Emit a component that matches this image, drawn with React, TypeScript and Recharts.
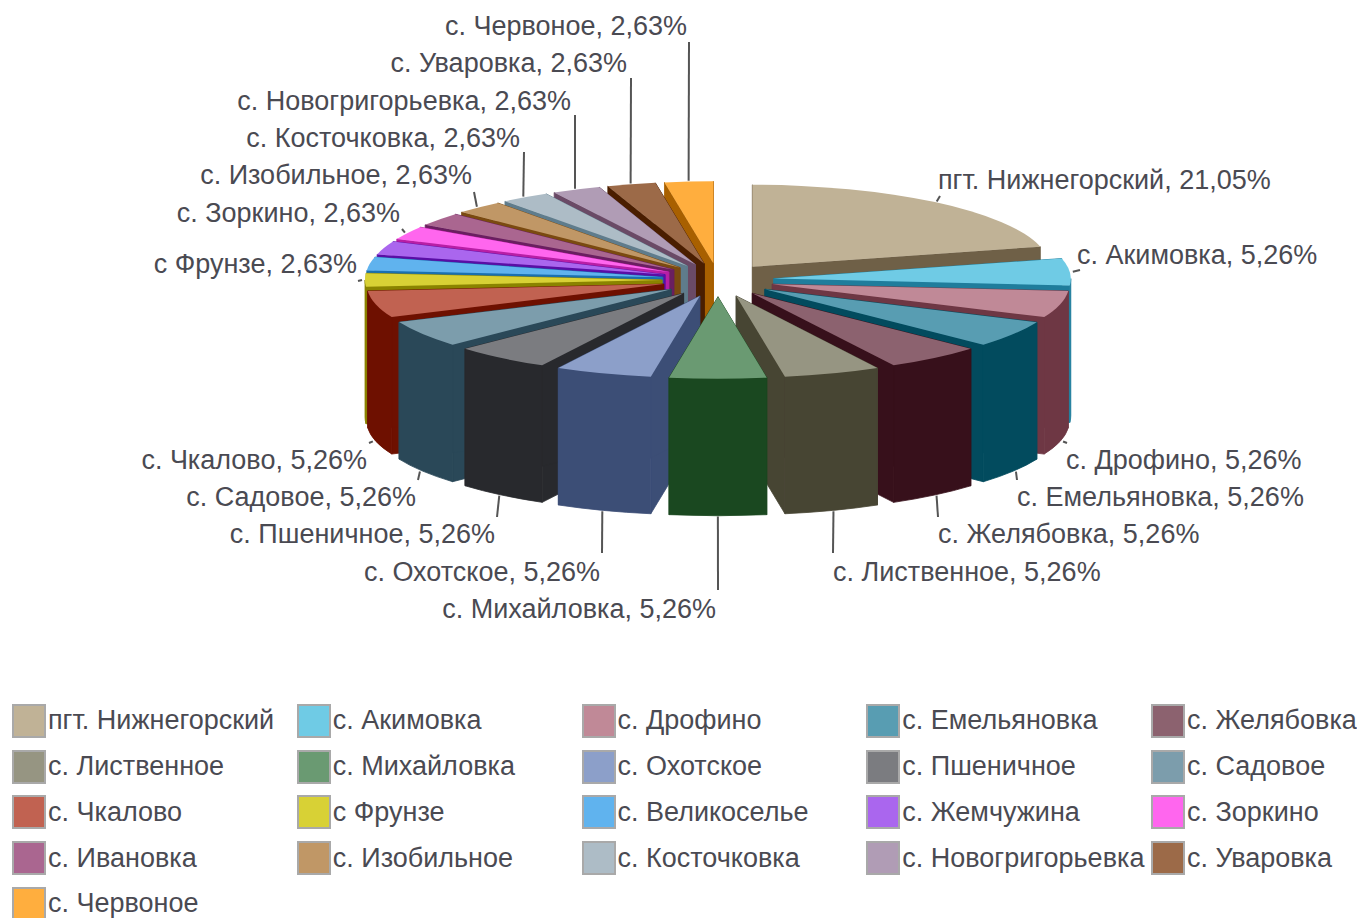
import React from 'react';
import { PieChart, Pie, Legend } from 'recharts';

const categories = [
  'пгт. Нижнегорский', 'с. Акимовка', 'с. Дрофино', 'с. Емельяновка', 'с. Желябовка',
  'с. Лиственное', 'с. Михайловка', 'с. Охотское', 'с. Пшеничное', 'с. Садовое',
  'с. Чкалово', 'с Фрунзе', 'с. Великоселье', 'с. Жемчужина', 'с. Зоркино',
  'с. Ивановка', 'с. Изобильное', 'с. Косточковка', 'с. Новогригорьевка', 'с. Уваровка',
  'с. Червоное',
];
const shares = [21.05, 5.26, 5.26, 5.26, 5.26, 5.26, 5.26, 5.26, 5.26, 5.26, 5.26, 2.63, 2.63, 2.63, 2.63, 2.63, 2.63, 2.63, 2.63, 2.63, 2.63];
const topColors = [
  '#c0b296', '#6fcbe5', '#c08997', '#589db2', '#8c626f', '#969582', '#6a9a72', '#8c9fc9', '#7b7c80', '#7c9dac',
  '#c16251', '#d8d135', '#60b3ee', '#aa66ee', '#ff66ee', '#aa6690', '#c09766', '#adbcc6', '#b09cb5', '#9c6a48', '#ffae3e',
];
const wallColors = [
  '#6f6047', '#1f7d9c', '#6e3744', '#024b5e', '#37101b', '#474533', '#1a4820', '#3c4e76', '#28292d', '#2a4858',
  '#6e1000', '#8a8300', '#1a70b0', '#5a0ea5', '#b81fa5', '#6a1f60', '#7a4a10', '#5f7c8c', '#6a4a66', '#4a1e00', '#a86000',
];

// label placement: [text x, text y, anchor, leader end x, leader end y], null = no label
type Spot = [number, number, 'start' | 'end', number, number] | null;
const labelSpots: Spot[] = [
  [938, 180, 'start', 940, 196], [1077, 255, 'start', 1080, 270], [1066, 460, 'start', 1067, 443],
  [1017, 497, 'start', 1017, 480], [938, 534, 'start', 938, 517], [833, 572, 'start', 833, 553],
  [716, 609, 'end', 718, 590], [600, 572, 'end', 602, 553], [495, 534, 'end', 497, 517],
  [416, 497, 'end', 418, 480], [367, 460, 'end', 369, 443], [357, 264, 'end', 358, 281],
  null, null, [400, 213, 'end', 402, 229], null, [472, 175, 'end', 474, 192],
  [520, 138, 'end', 524, 152], [571, 101, 'end', 575, 115], [627, 63, 'end', 631, 78], [687, 26, 'end', 689, 42],
];

const total = shares.reduce((a, b) => a + b, 0);
const rows = categories.map((name, i) => ({
  name,
  value: shares[i],
  fill: topColors[i],
  wall: wallColors[i],
  spot: labelSpots[i],
}));
// back-to-front painting: right side clockwise, left side anticlockwise, both from 12 o'clock
const rightRows = rows.slice(0, 7);
const leftRows = rows.slice(7).reverse();
const rightSweep = (360 * rightRows.reduce((a, r) => a + r.value, 0)) / total;
const leftSweep = (360 * leftRows.reduce((a, r) => a + r.value, 0)) / total;

const CX = 718;
const CY = 280;
const RADIUS = 297;
const SQUASH = 0.276;
const DEPTH = 137;
const EXPLODE_X = 56;
const EXPLODE_Y = 16.8;
const FONT = '"Liberation Sans", Arial, sans-serif';
const TEXT = '#4a4a52';

const rad = (deg: number) => (deg * Math.PI) / 180;

// angles here are clockwise from 12 o'clock, kept in 0..360
const sliceGeometry = (props: any) => {
  const a = 90 - props.startAngle;
  const b = 90 - props.endAngle;
  const shift = Math.min(a, b) < -0.001 ? 360 : 0;
  const from = Math.min(a, b) + shift;
  const to = Math.max(a, b) + shift;
  const mid = (from + to) / 2;
  const r = props.outerRadius;
  const ax = props.cx + EXPLODE_X * Math.sin(rad(mid));
  const ay = props.cy - EXPLODE_Y * Math.cos(rad(mid));
  const at = (t: number, radius = r) => ({
    x: ax + radius * Math.sin(rad(t)),
    y: ay - radius * SQUASH * Math.cos(rad(t)),
  });
  return { from, to, mid, r, ax, ay, at };
};

const Slice3D = (props: any) => {
  const { from, to, r, ax, ay, at } = sliceGeometry(props);
  const ry = r * SQUASH;
  const p0 = at(from);
  const p1 = at(to);
  const wall = props.wall ?? props.payload?.wall;
  const large = to - from > 180 ? 1 : 0;
  const lo = Math.max(from, 90);
  const hi = Math.min(to, 270);
  const f0 = at(lo);
  const f1 = at(hi);
  // thin stroke in the wall colour hides the seams between wall pieces
  return (
    <g>
      <path d={`M${ax},${ay} L${p0.x},${p0.y} L${p0.x},${p0.y + DEPTH} L${ax},${ay + DEPTH} Z`} fill={wall} stroke={wall} strokeWidth={0.8} />
      <path d={`M${ax},${ay} L${p1.x},${p1.y} L${p1.x},${p1.y + DEPTH} L${ax},${ay + DEPTH} Z`} fill={wall} stroke={wall} strokeWidth={0.8} />
      {hi > lo && (
        <path
          d={`M${f0.x},${f0.y} A${r},${ry} 0 0 1 ${f1.x},${f1.y} L${f1.x},${f1.y + DEPTH} A${r},${ry} 0 0 0 ${f0.x},${f0.y + DEPTH} Z`}
          fill={wall}
          stroke={wall}
          strokeWidth={0.8}
        />
      )}
      <path d={`M${ax},${ay} L${p0.x},${p0.y} A${r},${ry} 0 ${large} 1 ${p1.x},${p1.y} Z`} fill={props.fill} stroke="none" />
    </g>
  );
};

const SliceLabel = (props: any) => {
  const spot: Spot = props.spot ?? props.payload?.spot;
  if (!spot) return null;
  const { mid, at } = sliceGeometry(props);
  const edge = at(mid, props.outerRadius + 3);
  const front = Math.cos(rad(mid)) < -0.01;
  const startY = front ? edge.y + DEPTH : edge.y;
  const [tx, ty, anchor, ex, ey] = spot;
  const label = `${props.name}, ${props.value.toFixed(2).replace('.', ',')}%`;
  return (
    <g>
      <line x1={edge.x} y1={startY} x2={ex} y2={ey} stroke="#555" strokeWidth={2} />
      <text x={tx} y={ty} dy="0.35em" textAnchor={anchor} fontFamily={FONT} fontSize={27} fill={TEXT} stroke="none">
        {label}
      </text>
    </g>
  );
};

const ChartLegend = () => (
  <div style={{ display: 'grid', gridTemplateColumns: 'repeat(5, 284.75px)', gridAutoRows: '45.75px', paddingLeft: 12 }}>
    {rows.map((r) => (
      <div key={r.name} style={{ display: 'flex', alignItems: 'center', whiteSpace: 'nowrap' }}>
        <span
          style={{
            width: 30,
            height: 30,
            marginRight: 2,
            background: r.fill,
            border: '2px solid #a9a9a9',
            flex: 'none',
          }}
        />
        <span style={{ fontFamily: FONT, fontSize: 27, color: TEXT }}>{r.name}</span>
      </div>
    ))}
  </div>
);

export default function App() {
  return (
    <div style={{ position: 'absolute', left: 0, top: 0 }}>
      <PieChart width={1357} height={918} margin={{ top: 0, right: 0, bottom: 0, left: 0 }}>
        <Pie
          data={leftRows}
          dataKey="value"
          nameKey="name"
          cx={CX}
          cy={CY}
          outerRadius={RADIUS}
          startAngle={90}
          endAngle={90 + leftSweep}
          stroke="none"
          shape={Slice3D}
          label={SliceLabel}
          labelLine={false}
          isAnimationActive={false}
        />
        <Pie
          data={rightRows}
          dataKey="value"
          nameKey="name"
          cx={CX}
          cy={CY}
          outerRadius={RADIUS}
          startAngle={90}
          endAngle={90 - rightSweep}
          stroke="none"
          shape={Slice3D}
          label={SliceLabel}
          labelLine={false}
          isAnimationActive={false}
        />
        <Legend
          content={<ChartLegend />}
          wrapperStyle={{ position: 'absolute', left: 0, top: 698, width: 1357, bottom: 'auto' }}
        />
      </PieChart>
    </div>
  );
}
